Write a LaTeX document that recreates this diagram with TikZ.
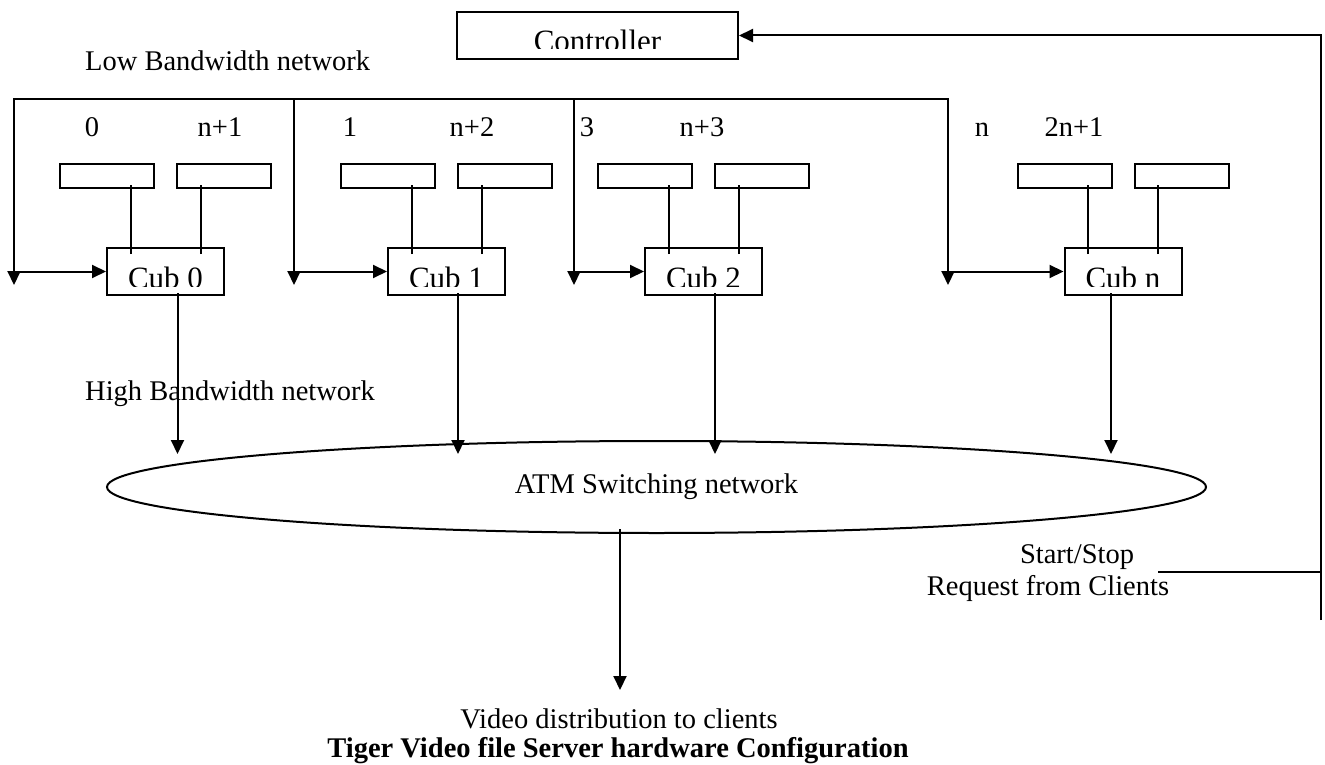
\documentclass[tikz,border=0pt]{standalone}
\usepackage{fontspec}
\setmainfont{Liberation Serif}
\usetikzlibrary{shapes.geometric,arrows.meta,calc}
\begin{document}
\begin{tikzpicture}[x=1pt,y=-1pt,
  every node/.style={font=\fontsize{28.5}{32}\selectfont},
  ln/.style={line width=2pt},
  arr/.style={line width=2pt,-{Triangle[length=14pt,width=13pt]}},
  box/.style={draw,line width=2pt,inner sep=0pt,minimum width=#1,minimum height=47pt},
  disk/.style={draw,line width=2pt,inner sep=0pt,minimum width=94pt,minimum height=24pt},
  lbl/.style={anchor=base,inner sep=0pt},
  boxlbl/.style={anchor=base,inner sep=0pt,font=\fontsize{31}{34}\selectfont},
]
\useasboundingbox (0,0) rectangle (1325,765);

% Controller
\node[box=281pt] (ctrl) at (597.5,35.5) {};
\begin{scope}
  \clip (ctrl.north west) rectangle ($(ctrl.south east)+(0,-11)$);
  \node[boxlbl] (ctrltxt) at ($(ctrl.south)+(0,-8.5)$) {Controller};
\end{scope}

% network labels
\node[lbl,anchor=base west] (lbn) at (85,71) {Low Bandwidth network};
\node[lbl,anchor=base west] (hbn) at (85,400) {High Bandwidth network};

% ATM switching network
\node[draw,ellipse,line width=2pt,inner sep=0pt,minimum width=1099pt,minimum height=92pt] (atm) at (656.5,487) {ATM Switching network};

% cubs, disks, labels and connectors
\foreach \i/\cx/\name/\la/\lax/\lb/\lbx/\ax/\bx in {
  0/165.5/0/0/92/n+1/220/12/14,
  1/446.5/1/1/350/n+2/472/11.5/294,
  2/703.5/2/3/587/n+3/702/11.5/574,
  n/1123/n/n/982/2n+1/1074/-12/948}{
  \node[box=117pt] (cub\i) at (\cx,271.5) {};
  \begin{scope}
    \clip (cub\i.north west) rectangle ($(cub\i.south east)+(0,-10)$);
    \node[boxlbl] (cubtxt\i) at ($(cub\i.south)+(0,-8)$) {Cub \name};
  \end{scope}
  \node[disk] (da\i) at ({\cx-58.5},176) {};
  \node[disk] (db\i) at ({\cx+58.5},176) {};
  \node[lbl] (la\i) at (\lax,137) {\la};
  \node[lbl] (lb\i) at (\lbx,137) {\lb};
  \draw[ln] ($(cub\i.north)+(-35,7)$) -- ($(cub\i.north |- da\i.south)+(-35,-4)$);
  \draw[ln] ($(cub\i.north)+(35,7)$) -- ($(cub\i.north |- db\i.south)+(35,-4)$);
  \coordinate (bus\i) at (\bx,99);
  \coordinate (drop\i) at (\bx,285);
  \draw[arr] (bus\i) -- (drop\i);
  \draw[arr] (cub\i.west -| bus\i) -- (cub\i.west);
  \draw[arr] ($(cub\i.south)+(\ax,-3)$) -- ($(cub\i.south |- atm.north)+(\ax,14)$);
}
\draw[ln,line cap=rect] (bus0) -- (busn);

% output to clients
\coordinate (vout) at (620,690);
\draw[arr] ($(atm.south)+(-36.5,-5)$) -- (vout);
\node[lbl] (vid) at (619,728) {Video distribution to clients};
\node[lbl] (title) at (618,757) {\bfseries Tiger Video file Server hardware Configuration};

% requests from clients
\node[lbl] (req1) at (1077,563) {Start/Stop};
\node[lbl] (req2) at (1048,595) {Request from Clients};
\coordinate (rb) at (1321,620);
\coordinate (reqend) at (1158,572);
\draw[arr] (rb) -- (rb |- ctrl.east) -- (ctrl.east);
\draw[ln] (reqend) -- (reqend -| rb);
\end{tikzpicture}
\end{document}
